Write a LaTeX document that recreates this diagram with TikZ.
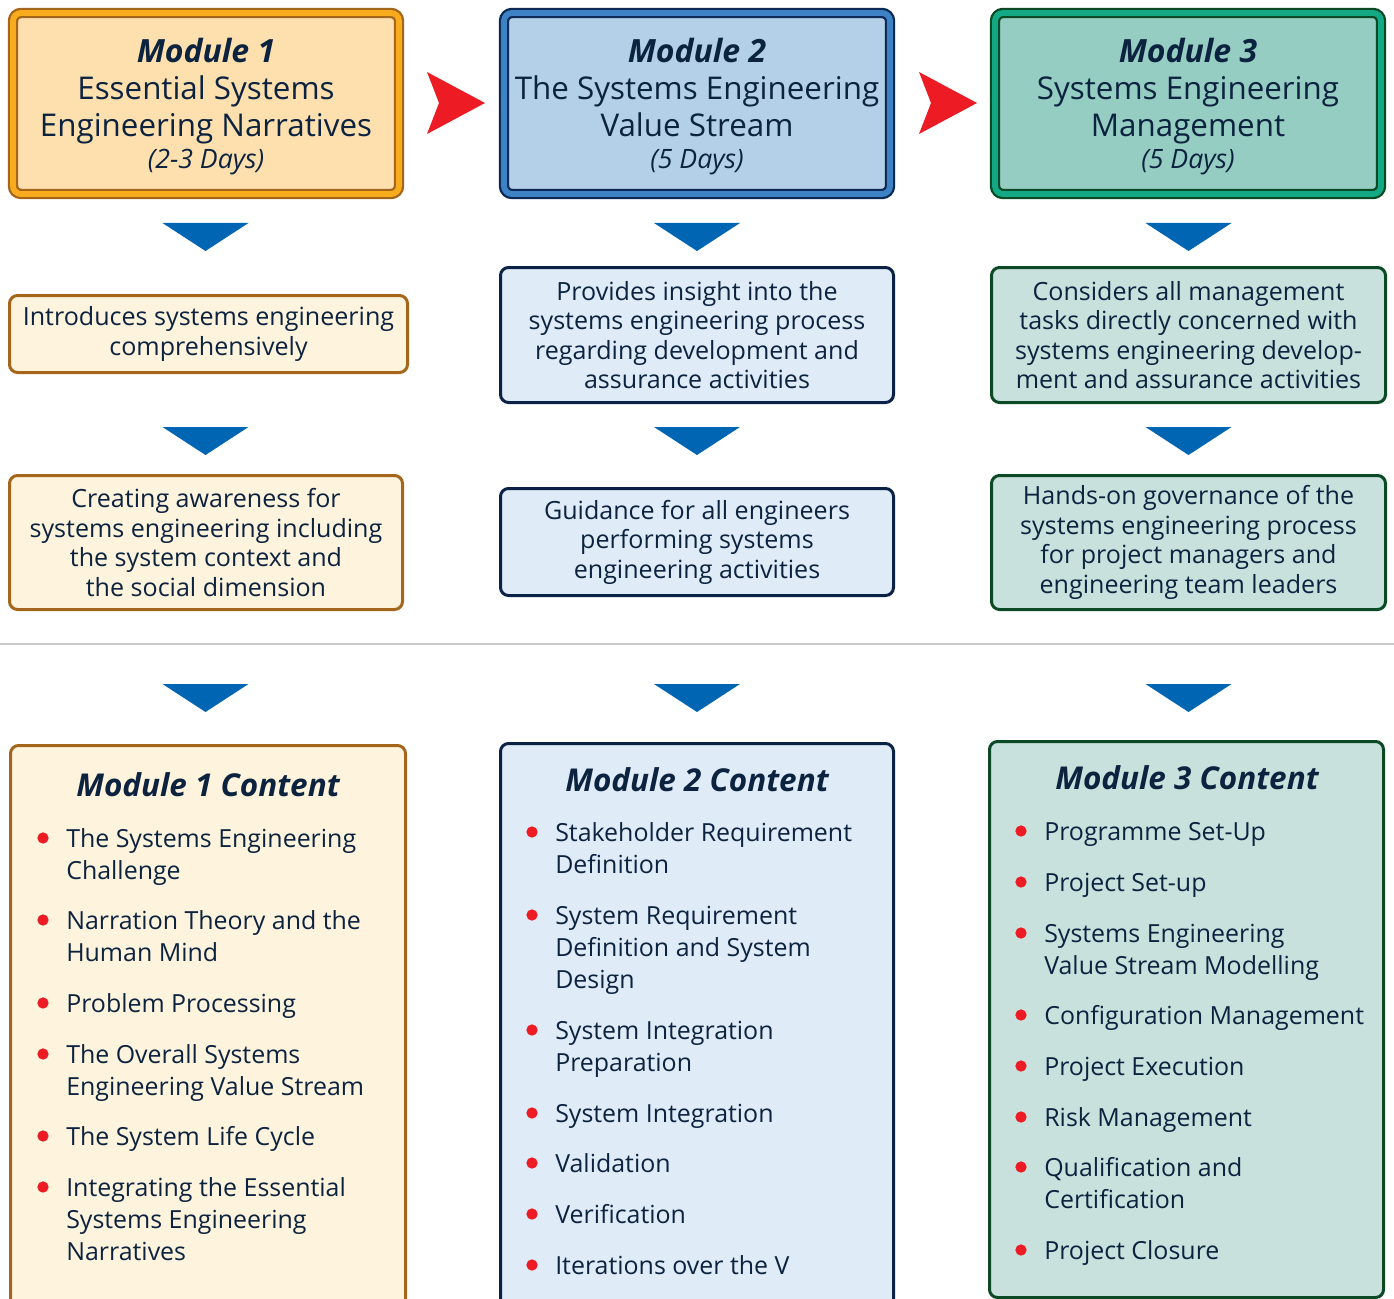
\documentclass[tikz,border=0pt]{standalone}
\usepackage{fontspec}
\setmainfont{Open Sans}
\definecolor{txt}{HTML}{0C2340}
\definecolor{oDark}{HTML}{A3661B}
\definecolor{oBand}{HTML}{F8AB1D}
\definecolor{oFill}{HTML}{FEDFAE}
\definecolor{oLight}{HTML}{FEF3DC}
\definecolor{bDark}{HTML}{0C2A55}
\definecolor{bBand}{HTML}{3E82C6}
\definecolor{bFill}{HTML}{B4CFE8}
\definecolor{bLight}{HTML}{DFEBF7}
\definecolor{bLine}{HTML}{0B2246}
\definecolor{gDark}{HTML}{0B4A24}
\definecolor{gBand}{HTML}{13A985}
\definecolor{gFill}{HTML}{96CDC2}
\definecolor{gLight}{HTML}{C8E1DC}
\definecolor{triBlue}{HTML}{0065B3}
\definecolor{arrRed}{HTML}{ED1C24}
\definecolor{sepGray}{HTML}{C8C8C8}
\tikzset{
 wh/.style 2 args={minimum width=#1*0.75pt, minimum height=#2*0.75pt},
 topbox/.style={rectangle, rounded corners=6pt, line width=1.7pt, double distance=4.4pt, inner sep=0pt, align=center, text=txt, font=\fontsize{23.5}{27.75}\selectfont, wh={386}{181}},
 top1/.style={topbox, draw=oDark, double=oBand, fill=oFill},
 top2/.style={topbox, draw=bDark, double=bBand, fill=bFill},
 top3/.style={topbox, draw=gDark, double=gBand, fill=gFill},
 descbox/.style={rectangle, rounded corners=6pt, line width=2.25pt, inner sep=0pt, align=center, text=txt, font=\fontsize{18.8}{22.1}\selectfont},
 desc1/.style={descbox, draw=oDark, fill=oLight},
 desc2/.style={descbox, draw=bLine, fill=bLight},
 desc3/.style={descbox, draw=gDark, fill=gLight},
 contbox/.style={rectangle, rounded corners=6pt, line width=2.25pt, inner sep=0pt},
 cont1/.style={contbox, draw=oDark, fill=oLight},
 cont2/.style={contbox, draw=bLine, fill=bLight},
 cont3/.style={contbox, draw=gDark, fill=gLight},
 ctitle/.style={text=txt, font=\fontsize{23.6}{26}\selectfont\bfseries\itshape, inner sep=0pt},
 item/.style={anchor=north west, inner sep=0pt, align=left, text=txt, font=\fontsize{18.7}{24}\selectfont},
 bullet/.style={circle, fill=arrRed, minimum size=8.5pt, inner sep=0pt},
 tri/.style={fill=triBlue},
 redarrow/.style={fill=arrRed},
 sepline/.style={draw=sepGray, line width=1.5pt},
}
\newcommand\bitem[4]{\node[bullet] (b#1) at (#2,#3) {};
  \node[item] (i#1) at ({#2+23},{#3-13.5}) {\strut #4};}
\newcommand\modhead[1]{{\fontsize{24}{27.75}\selectfont\bfseries\itshape\rule{0pt}{22.8pt}#1}}
\newcommand\moddays[1]{{\fontsize{20}{22}\selectfont\itshape #1}}
\begin{document}
\begin{tikzpicture}[x=0.75pt,y=-0.75pt]
\clip (0,0) rectangle (1394,1298);
\fill[white] (0,0) rectangle (1394,1298);

% top module boxes
\node[top1] (m1) at (206,103.5) {\modhead{Module 1}\\Essential Systems\\Engineering Narratives\\[-4pt]\moddays{(2-3 Days)}};
\node[top2] (m2) at (697,103.5) {\modhead{Module 2}\\The Systems Engineering\\Value Stream\\[-4pt]\moddays{(5 Days)}};
\node[top3] (m3) at (1188,103.5) {\modhead{Module 3}\\Systems Engineering\\Management\\[-4pt]\moddays{(5 Days)}};

% red arrows between modules
\foreach \dx in {0,492} {
  \fill[redarrow] ({427+\dx},72) -- ({485+\dx},103) -- ({427+\dx},134) -- ({439+\dx},103) -- cycle;
}

% blue down triangles
\foreach \cx in {205.5,697,1188.5} {
  \foreach \ty in {223,427,684} {
    \fill[tri] ({\cx-43},\ty) -- ({\cx+43},\ty) -- (\cx,{\ty+28}) -- cycle;
  }
}

% description boxes
\node[desc1, wh={398}{77}] (d11) at (208.5,334) {Introduces systems engineering\\comprehensively};
\node[desc2, wh={393}{135}] (d21) at (697,335) {Provides insight into the\\systems engineering process\\regarding development and\\assurance activities};
\node[desc3, wh={394}{135}] (d31) at (1188.5,335) {Considers all management\\tasks directly concerned with\\systems engineering develop-\\ment and assurance activities};
\node[desc1, wh={393}{134}] (d12) at (206,542.5) {Creating awareness for\\systems engineering including\\the system context and\\the social dimension};
\node[desc2, wh={393}{107}] (d22) at (697,542) {Guidance for all engineers\\performing systems\\engineering activities};
\node[desc3, wh={394}{134}] (d32) at (1188.5,542.5) {Hands-on governance of the\\systems engineering process\\for project managers and\\engineering team leaders};

% separator
\draw[sepline] (0,644) -- (1394,644);

% content boxes
\node[cont1, wh={395}{585}] (c1) at (208,1038) {};
\node[cont2, wh={393}{587}] (c2) at (697,1037) {};
\node[cont3, wh={394}{556}] (c3) at (1186.5,1019.5) {};

\node[ctitle] (t1) at (208,785) {Module 1 Content};
\node[ctitle] (t2) at (697,780) {Module 2 Content};
\node[ctitle] (t3) at (1187,778) {Module 3 Content};

% module 1 items
\bitem{11}{43}{838}{The Systems Engineering\\Challenge}
\bitem{12}{43}{920}{Narration Theory and the\\Human Mind}
\bitem{13}{43}{1003}{Problem Processing}
\bitem{14}{43}{1054}{The Overall Systems\\Engineering Value Stream}
\bitem{15}{43}{1136}{The System Life Cycle}
\bitem{16}{43}{1187}{Integrating the Essential\\Systems Engineering\\Narratives}

% module 2 items
\bitem{21}{532}{832}{Stakeholder Requirement\\Definition}
\bitem{22}{532}{915}{System Requirement\\Definition and System\\Design}
\bitem{23}{532}{1030}{System Integration\\Preparation}
\bitem{24}{532}{1113}{System Integration}
\bitem{25}{532}{1163}{Validation}
\bitem{26}{532}{1214}{Verification}
\bitem{27}{532}{1265}{Iterations over the V}

% module 3 items
\bitem{31}{1021}{831}{Programme Set-Up}
\bitem{32}{1021}{882}{Project Set-up}
\bitem{33}{1021}{933}{Systems Engineering\\Value Stream Modelling}
\bitem{34}{1021}{1015}{Configuration Management}
\bitem{35}{1021}{1066}{Project Execution}
\bitem{36}{1021}{1117}{Risk Management}
\bitem{37}{1021}{1167}{Qualification and\\Certification}
\bitem{38}{1021}{1250}{Project Closure}
\end{tikzpicture}
\end{document}
